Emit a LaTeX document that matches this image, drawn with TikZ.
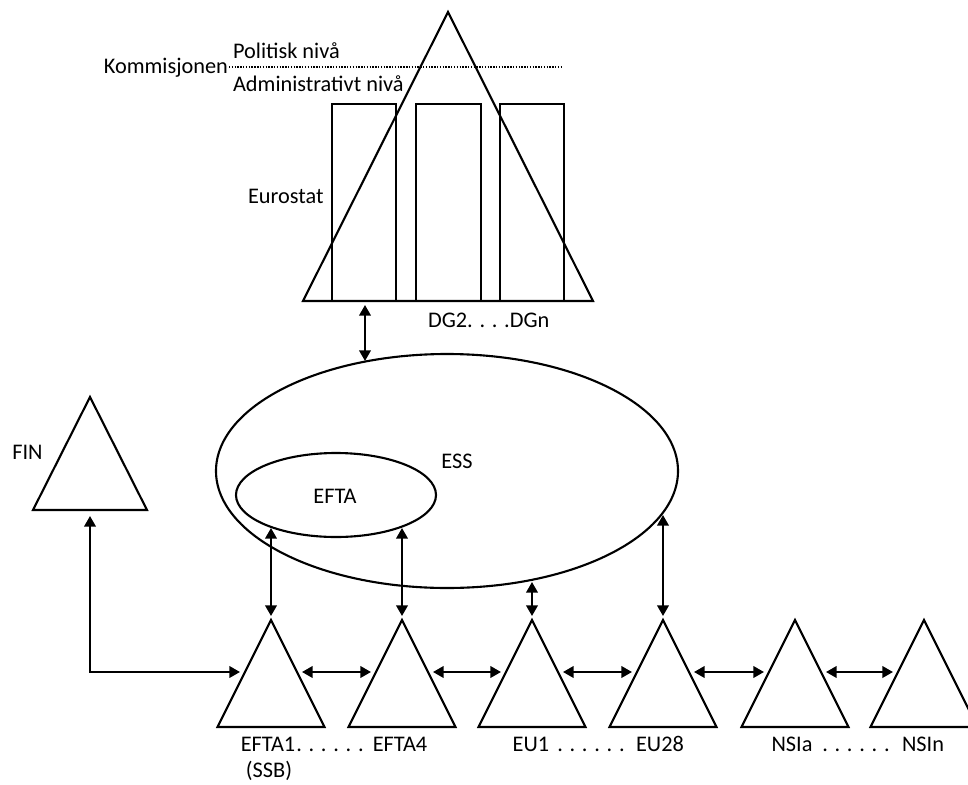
\documentclass[tikz,border=0pt]{standalone}
\usepackage{fontspec}
\setmainfont{Carlito}
\usetikzlibrary{arrows.meta}

\begin{document}
\begin{tikzpicture}[x=0.02cm,y=-0.02cm,line width=1.2pt,
  >={Triangle[length=6pt,width=6.5pt]},
  lbl/.style={font=\fontsize{12.7}{15}\selectfont,inner sep=0pt}]
\useasboundingbox (0,0) rectangle (968,785);
% kommisjonen with the DGs
\draw (448,12) -- (593,301) -- (303,301) -- cycle;
\foreach \x/\w in {332/64,416/65,500/64}
\draw (\x,104) rectangle ++(\w,197);
\node (kom)[lbl,anchor=base east] at (229,73) {Kommisjonen};
\draw[line width=0.9pt,dash pattern=on 0.8pt off 0.8pt] (kom.east) -- ++(334,0);
\node (pol)[lbl,anchor=base west] at (232,58) {Politisk nivå};
\node (adm)[lbl,anchor=base west] at (232,91) {Administrativt nivå};
\node (eurostat)[lbl,anchor=base west] at (247,203) {Eurostat};
\node (dg)[lbl,anchor=base west] at (427,327) {DG2. . . .DGn};
% ESS and EFTA
\draw (447,471) ellipse [x radius=231,y radius=117];
\draw (336,495) ellipse [x radius=100,y radius=42];
\node (ess)[lbl] at (457,461) {ESS};
\node (efta)[lbl] at (335,496) {EFTA};
% FIN
\draw (90,397) -- ++(57,113) -- ++(-114,0) -- cycle;
\node (fin)[lbl] at (27.5,452) {FIN};
\coordinate (finb) at (90,516);
% the national offices
\foreach \i/\x in {1/271,2/402,3/532,4/663,5/795,6/924}{
\draw (\x,620) -- ++(53.5,107) -- ++(-107,0) -- cycle;
\coordinate (t\i) at (\x,616);
\coordinate (l\i) at (\x-31,672);
\coordinate (r\i) at (\x+31,672);
}
\foreach \n/\x/\t in {efta1/268/EFTA1,dots1/330/{. . . . . .},efta4/400/EFTA4,eu1/531/EU1,dots2/591/{. . . . . .},eu28/660/EU28,nsia/792/NSIa,dots3/856/{. . . . . .},nsin/923/NSIn}
\node (\n)[lbl,anchor=base] at (\x,751) {\t};
\node (ssb)[lbl,anchor=base] at (269,777) {(SSB)};
% connections
\coordinate (kb) at (365,305);
\coordinate (et) at (365,361);
\draw[<->] (kb) -- (et);
\coordinate (e1) at (271,528);
\coordinate (e2) at (402,528);
\coordinate (e3) at (532,582);
\coordinate (e4) at (663,515);
\foreach \a/\b in {e1/t1,e2/t2,e3/t3,e4/t4}
\draw[<->] (\a) -- (\b);
\foreach \a/\b in {1/2,2/3,3/4,4/5,5/6}
\draw[<->] (r\a) -- (l\b);
\draw[<->] (finb) |- (l1);
\end{tikzpicture}
\end{document}
